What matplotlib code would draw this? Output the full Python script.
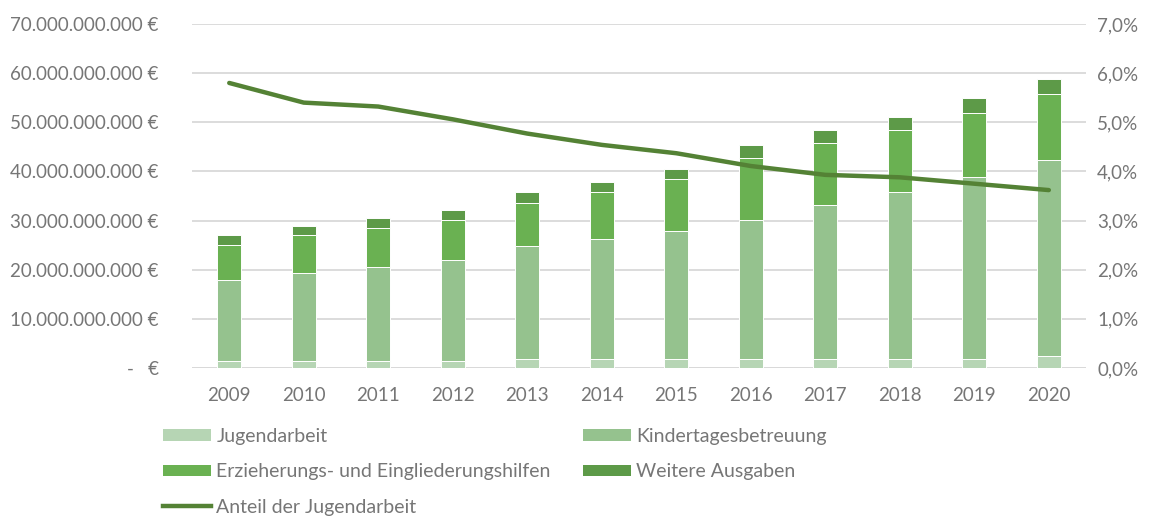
import matplotlib
matplotlib.use("Agg")
import matplotlib.pyplot as plt
from matplotlib.ticker import FuncFormatter, MultipleLocator
from matplotlib.patches import Patch
from matplotlib.lines import Line2D
import numpy as np

years = ["2009", "2010", "2011", "2012", "2013", "2014",
         "2015", "2016", "2017", "2018", "2019", "2020"]

# Ausgaben in Mrd. Euro je Bereich
jugendarbeit = [1.43, 1.43, 1.43, 1.43, 1.83, 1.83, 1.83, 1.83, 1.83, 1.83, 1.83, 2.38]
kindertages = [16.49, 17.92, 19.14, 20.57, 23.09, 24.44, 26.07, 28.31, 31.37, 34.02, 37.07, 39.98]
erziehung = [7.13, 7.74, 7.94, 8.07, 8.62, 9.51, 10.59, 12.57, 12.62, 12.55, 13.03, 13.38]
weitere = [2.04, 1.83, 2.04, 2.17, 2.24, 2.10, 2.04, 2.64, 2.58, 2.58, 3.00, 3.06]

# Anteil der Jugendarbeit in Prozent
anteil = [5.80, 5.40, 5.32, 5.06, 4.77, 4.54, 4.37, 4.11, 3.93, 3.88, 3.75, 3.62]

labels = ["Jugendarbeit", "Kindertagesbetreuung",
          "Erzieherungs- und Eingliederungshilfen", "Weitere Ausgaben",
          "Anteil der Jugendarbeit"]

c_jug = "#b6d5b4"
c_kita = "#95c28e"
c_erz = "#6ab152"
c_wei = "#5d9a48"
c_line = "#548235"
c_grid = "#d9d9d9"
c_text = "#767676"

plt.rcParams["font.family"] = ["Lato", "DejaVu Sans"]

fig = plt.figure(figsize=(11.51, 5.18), dpi=100)
ax = fig.add_axes([0.1668, 0.2896, 0.7768, 0.6641])

x = np.arange(len(years))
bn = 1e9
w = 0.32
segs = [(jugendarbeit, c_jug), (kindertages, c_kita), (erziehung, c_erz), (weitere, c_wei)]
bottom = np.zeros(len(years))
for vals, col in segs:
    v = np.array(vals) * bn
    ax.bar(x, v, w, bottom=bottom, color=col, edgecolor="white", linewidth=0.7, zorder=3)
    bottom += v

ax.set_xlim(-0.5, len(years) - 0.5)
ax.set_ylim(0, 70 * bn)
ax.yaxis.set_major_locator(MultipleLocator(10 * bn))


def euro(v, pos):
    if abs(v) < 1:
        return "-   €"
    s = f"{v:,.0f}".replace(",", ".")
    return s + " €"


ax.yaxis.set_major_formatter(FuncFormatter(euro))
ax.grid(axis="y", color=c_grid, linewidth=1.3, zorder=0)
ax.set_axisbelow(True)
for s in ["top", "right", "left", "bottom"]:
    ax.spines[s].set_visible(False)
ax.axhline(0, color=c_grid, linewidth=1.3, zorder=1)
ax.set_xticks(x)
ax.set_xticklabels(years)
ax.tick_params(axis="both", length=0, labelcolor=c_text, labelsize=13.5)
ax.tick_params(axis="y", pad=24)
ax.tick_params(axis="x", pad=14)

ax2 = ax.twinx()
ax2.set_ylim(0, 7.0)
ax2.yaxis.set_major_locator(MultipleLocator(1.0))
ax2.yaxis.set_major_formatter(FuncFormatter(lambda v, p: f"{v:.1f}%".replace(".", ",")))
ax2.plot(x, anteil, color=c_line, linewidth=3.2, solid_capstyle="round", zorder=5)
for s in ["top", "right", "left", "bottom"]:
    ax2.spines[s].set_visible(False)
ax2.tick_params(axis="y", length=0, labelcolor=c_text, labelsize=13.5, pad=8)

leg_kw = dict(loc="upper left", frameon=False, fontsize=14, labelcolor=c_text,
              handlelength=2.45, handleheight=0.55, handletextpad=0.3,
              labelspacing=0.95, borderaxespad=0, borderpad=0)

col1 = [
    Patch(facecolor=c_jug, label=labels[0]),
    Patch(facecolor=c_erz, label=labels[2]),
    Line2D([0], [0], color=c_line, linewidth=3.2, label=labels[4]),
]
col2 = [
    Patch(facecolor=c_kita, label=labels[1]),
    Patch(facecolor=c_wei, label=labels[3]),
]
leg1 = fig.legend(handles=col1, bbox_to_anchor=(0.1416, 0.174), **leg_kw)
leg2 = fig.legend(handles=col2, bbox_to_anchor=(0.5065, 0.174), **leg_kw)

fig.savefig("out.png", dpi=100)
